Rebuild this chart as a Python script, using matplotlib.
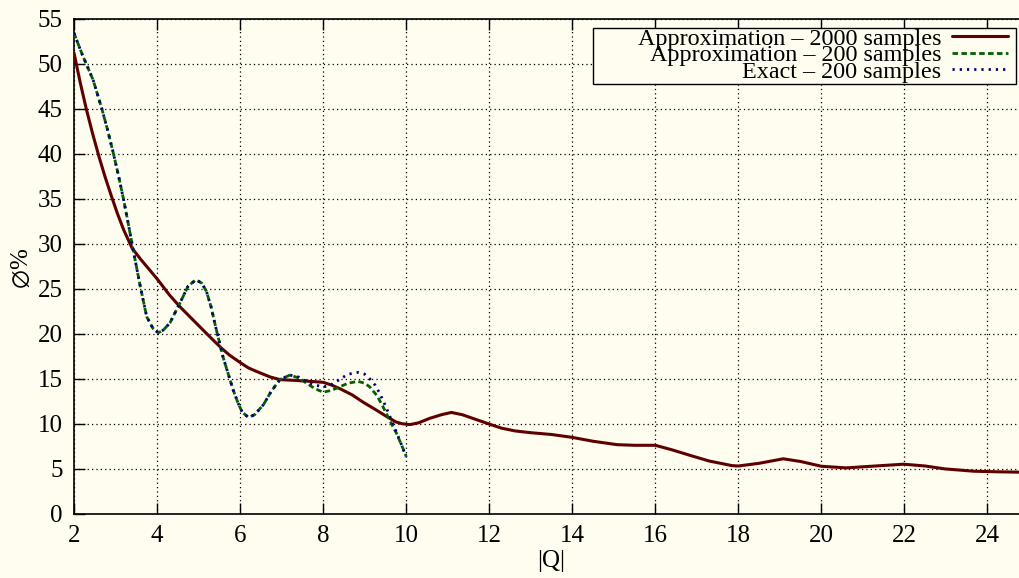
import matplotlib
matplotlib.use("Agg")
import matplotlib.pyplot as plt
from matplotlib.patches import Rectangle

# ---- data ----
x_approx2000 = [2.0, 2.15, 2.3, 2.45, 2.6, 2.75, 2.9, 3.05, 3.2, 3.4, 3.6, 3.8, 4.0, 4.3, 4.55,
                4.83, 5.11, 5.35, 5.55, 5.75, 6.0, 6.2, 6.4, 6.72, 6.96, 7.36, 7.7, 8.0, 8.2,
                8.4, 8.7, 8.96, 9.25, 9.53, 9.75, 9.9, 10.09, 10.3, 10.57, 10.85, 11.09, 11.35,
                11.6, 12.0, 12.3, 12.62, 13.0, 13.5, 14.0, 14.5, 15.08, 15.5, 16.0, 16.4, 16.86,
                17.3, 17.85, 18.0, 18.5, 19.08, 19.5, 20.0, 20.6, 21.3, 21.98, 22.5, 22.97,
                23.67, 24.3, 25.0]
y_approx2000 = [51.2, 47.9, 44.9, 42.2, 39.7, 37.4, 35.3, 33.3, 31.5, 29.5, 28.3, 27.2, 26.1, 24.3, 23.0,
                21.7, 20.4, 19.3, 18.4, 17.6, 16.8, 16.2, 15.8, 15.2, 14.9, 14.8, 14.7, 14.6, 14.3,
                13.9, 13.2, 12.4, 11.6, 10.8, 10.2, 10.0, 9.9, 10.1, 10.6, 11.0, 11.25, 11.0,
                10.6, 9.96, 9.5, 9.2, 9.0, 8.8, 8.48, 8.05, 7.67, 7.6, 7.6, 7.1, 6.45,
                5.85, 5.34, 5.3, 5.6, 6.1, 5.8, 5.27, 5.09, 5.3, 5.5, 5.3, 4.98,
                4.72, 4.65, 4.6]

x_approx200 = [2.0, 2.2, 2.46, 2.67, 2.8, 2.95, 3.07, 3.19, 3.3, 3.43, 3.59, 3.75, 3.9, 4.03,
               4.15, 4.31, 4.55, 4.75, 4.94, 5.08, 5.19, 5.3, 5.43, 5.59, 5.75, 5.83, 5.95,
               6.05, 6.2, 6.35, 6.56, 6.75, 6.96, 7.2, 7.4, 7.6, 7.8, 8.0, 8.2, 8.4, 8.6,
               8.84, 9.0, 9.12, 9.3, 9.44, 9.6, 9.77, 9.9, 10.0]
y_approx200 = [53.4, 51.0, 48.2, 45.0, 42.8, 40.0, 37.6, 35.0, 32.4, 29.2, 25.4, 21.9, 20.6, 20.1,
               20.4, 21.2, 23.4, 25.3, 26.0, 25.6, 24.7, 23.0, 20.4, 17.4, 15.0, 13.8, 12.3,
               11.3, 10.7, 11.0, 12.1, 13.6, 14.9, 15.4, 15.1, 14.5, 13.9, 13.5, 13.7, 14.1, 14.5,
               14.7, 14.5, 14.1, 13.1, 11.9, 10.4, 8.9, 7.5, 6.4]

x_exact200 = [2.0, 2.2, 2.46, 2.67, 2.8, 2.95, 3.07, 3.19, 3.3, 3.43, 3.59, 3.75, 3.9, 4.03,
              4.15, 4.31, 4.55, 4.75, 4.94, 5.08, 5.19, 5.3, 5.43, 5.59, 5.75, 5.83, 5.95,
              6.05, 6.2, 6.35, 6.56, 6.75, 6.96, 7.2, 7.4, 7.6, 7.8, 8.0, 8.15, 8.32, 8.6,
              8.84, 9.0, 9.12, 9.25, 9.36, 9.5, 9.68, 9.85, 10.0]
y_exact200 = [53.4, 51.0, 48.2, 45.0, 42.8, 40.0, 37.6, 35.0, 32.4, 29.2, 25.4, 21.9, 20.6, 20.1,
              20.4, 21.2, 23.4, 25.3, 26.0, 25.6, 24.7, 23.0, 20.4, 17.4, 15.0, 13.8, 12.3,
              11.3, 10.7, 11.0, 12.1, 13.6, 14.9, 15.4, 15.2, 14.7, 14.3, 14.1, 14.2, 14.7, 15.5,
              15.7, 15.5, 15.0, 14.3, 13.4, 12.0, 10.0, 8.1, 6.3]

labels = ["Approximation – 2000 samples", "Approximation – 200 samples", "Exact – 200 samples"]
x_ticks = [2, 4, 6, 8, 10, 12, 14, 16, 18, 20, 22, 24]
y_ticks = [0, 5, 10, 15, 20, 25, 30, 35, 40, 45, 50, 55]

# ---- style ----
BG = "#fffcf0"
FONT = ["Liberation Serif", "DejaVu Serif"]
plt.rcParams["font.family"] = FONT

W, H = 1019, 578
fig = plt.figure(figsize=(W / 100, H / 100), dpi=100, facecolor=BG)
ax_left, ax_right = 74, 1029
ax_top, ax_bottom = 18.7, 513.7
ax = fig.add_axes([ax_left / W, 1 - ax_bottom / H, (ax_right - ax_left) / W, (ax_bottom - ax_top) / H])
ax.set_facecolor(BG)

ax.plot(x_approx2000, y_approx2000, color="#5e0000", lw=2.2, solid_capstyle="round",
        solid_joinstyle="round", label=labels[0], zorder=3)
ax.plot(x_approx200, y_approx200, color="#006000", lw=2.0, dashes=(2.0, 1.2),
        label=labels[1], zorder=3)
ax.plot(x_exact200, y_exact200, color="#000078", lw=2.0, dashes=(0.8, 1.8),
        label=labels[2], zorder=3)

ax.set_xlim(2, 25)
ax.set_ylim(0, 55)
ax.set_xticks(x_ticks)
ax.set_yticks(y_ticks)
ax.grid(True, color="black", linestyle=(0, (1, 2.5)), linewidth=0.9, zorder=1)
ax.tick_params(direction="in", length=8, width=1, top=True, right=False,
               labelsize=18, pad=8, colors="black")
for s in ["left", "bottom", "top"]:
    ax.spines[s].set_linewidth(1.2)
    ax.spines[s].set_color("black")
ax.spines["right"].set_visible(False)

ax.set_xlabel("|Q|", fontsize=18, labelpad=2)
fig.text(22 / W, 1 - 268 / H, r"$\varnothing$%", rotation=90, fontsize=18, ha="center",
         va="center", math_fontfamily="stix")

# legend frame drawn as a rectangle in figure pixels
box_l, box_r, box_t, box_b = 593, 1016, 28.3, 84.3
rect = Rectangle((box_l / W, 1 - box_b / H), (box_r - box_l) / W, (box_b - box_t) / H,
                 transform=fig.transFigure, facecolor=BG, edgecolor="black", lw=1.0,
                 zorder=4, clip_on=False)
ax.add_patch(rect)
leg = ax.legend(loc="upper right", bbox_to_anchor=(1008 / W, 1 - 28 / H),
                bbox_transform=fig.transFigure, frameon=False, markerfirst=False,
                fontsize=17.4, borderpad=0, borderaxespad=0, handlelength=2.3,
                handletextpad=0.45, labelspacing=-0.23)
leg.set_zorder(5)

fig.savefig("out.png", dpi=100, facecolor=BG)
